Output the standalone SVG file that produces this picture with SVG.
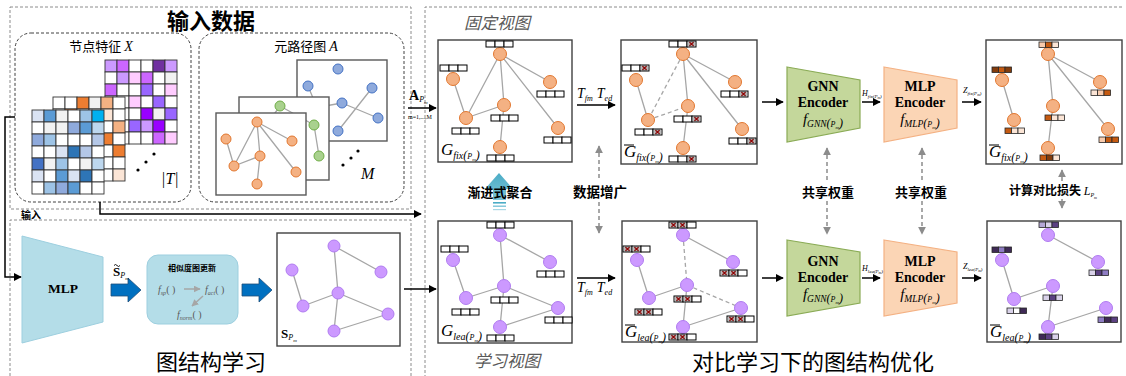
<svg xmlns="http://www.w3.org/2000/svg" xmlns:xlink="http://www.w3.org/1999/xlink" width="1126" height="376" viewBox="0 0 1126 376">
<defs>
<style>
.dash{fill:none;stroke:#8c8c8c;stroke-width:1;stroke-dasharray:3 2}
.rdash{fill:none;stroke:#404040;stroke-width:1;stroke-dasharray:3 2}
.panel{fill:#fff;stroke:#404040;stroke-width:1.4}
.mp{fill:#fff;stroke:#595959;stroke-width:1.4}
.e{stroke:#a6a6a6;stroke-width:1.3;fill:none}
.ed{stroke:#a6a6a6;stroke-width:1.3;fill:none;stroke-dasharray:4 3}
.on{fill:#f4b183;stroke:#e2772f;stroke-width:1}
.pn{fill:#cc99ff;stroke:#b07cf0;stroke-width:1}
.bn{fill:#8faadc;stroke:#4472c4;stroke-width:1}
.gn{fill:#a9d18e;stroke:#70ad47;stroke-width:1}
.bar rect{fill:#fff;stroke:#000;stroke-width:1}
.cb rect{stroke:#262626;stroke-width:0.8}
.ar{stroke:#000;stroke-width:1.5;fill:none;marker-end:url(#ah)}
.ga{stroke:#8c8c8c;stroke-width:1.5;fill:none;stroke-dasharray:4 3;marker-end:url(#gh)}
.cjk{font-family:"Noto Sans CJK SC","Noto Sans CJK JP",sans-serif}
.sf{font-family:"Liberation Serif",serif}
.it{font-style:italic}
.b{font-weight:bold}
.ba{stroke:#000;stroke-width:1}
</style>
<marker id="ah" viewBox="0 0 10 10" refX="9" refY="5" markerWidth="8" markerHeight="8" markerUnits="userSpaceOnUse" orient="auto"><path d="M0,0L10,5L0,10z" fill="#000"/></marker>
<marker id="gh" viewBox="0 0 10 10" refX="9" refY="5" markerWidth="8" markerHeight="8" markerUnits="userSpaceOnUse" orient="auto"><path d="M0,0L10,5L0,10z" fill="#8c8c8c"/></marker>
<marker id="lh" viewBox="0 0 10 10" refX="9" refY="5" markerWidth="7" markerHeight="7" markerUnits="userSpaceOnUse" orient="auto"><path d="M0,0L10,5L0,10z" fill="#a6a6a6"/></marker>
<rect id="c" width="12" height="12" stroke="#333" stroke-width="0.9"/>
<g id="b3" class="bar"><rect x="0" y="0" width="9" height="6"/><rect x="9" y="0" width="9" height="6"/><rect x="18" y="0" width="9" height="6"/></g>
<g id="xk"><rect x="2" y="1" width="5" height="4" fill="#f2f2f2" stroke="#222" stroke-width="0.6"/><path d="M2.5,1.3L6.5,4.7M6.5,1.3L2.5,4.7" stroke="#8b0000" stroke-width="1.2"/></g>
<g id="bx1"><use href="#b3"/><use href="#xk" x="18"/></g>
<g id="bx2"><use href="#b3"/><use href="#xk" x="0"/><use href="#xk" x="9"/></g>
<linearGradient id="tg" x1="0" y1="0" x2="0" y2="1"><stop offset="0" stop-color="#4bacc6"/><stop offset="1" stop-color="#7cc4d8"/></linearGradient>
</defs>
<rect width="1126" height="376" fill="#fff"/>

<g id="frames">
<rect class="dash" x="10" y="7" width="401" height="202"/>
<path class="dash" d="M10,376V220H411V376"/>
<path class="dash" d="M1122,7H425V376"/>
<rect class="rdash" x="15" y="33" width="176" height="169" rx="16"/>
<rect class="rdash" x="199" y="33" width="205" height="169" rx="16"/>
</g>

<g id="titles">
<text class="cjk b" x="211" y="29" font-size="22" text-anchor="middle">输入数据</text>
<text class="cjk" x="211" y="370" font-size="22" text-anchor="middle">图结构学习</text>
<text class="cjk" x="813" y="370" font-size="22" text-anchor="middle">对比学习下的图结构优化</text>
<text class="cjk it" x="497" y="29" font-size="16.5" fill="#595959" text-anchor="middle">固定视图</text>
<text class="cjk it" x="507" y="367" font-size="16.5" fill="#595959" text-anchor="middle">学习视图</text>
</g>

<g id="node-features">
<text x="101" y="51" font-size="13" text-anchor="middle"><tspan class="cjk">节点特征 </tspan><tspan class="sf it" font-size="14">X</tspan></text>
<g id="mat-purple">
<use href="#c" x="105" y="60" fill="#cc99ff"/><use href="#c" x="117" y="60" fill="#cc66ff"/><use href="#c" x="129" y="60" fill="#fff"/><use href="#c" x="141" y="60" fill="#fff"/><use href="#c" x="153" y="60" fill="#7030a0"/><use href="#c" x="165" y="60" fill="#cc99ff"/>
<use href="#c" x="105" y="72" fill="#fff"/><use href="#c" x="117" y="72" fill="#cc99ff"/><use href="#c" x="129" y="72" fill="#ffccff"/><use href="#c" x="141" y="72" fill="#cc66ff"/><use href="#c" x="153" y="72" fill="#fff"/><use href="#c" x="165" y="72" fill="#f2f2f2"/>
<use href="#c" x="105" y="84" fill="#cc66ff"/><use href="#c" x="117" y="84" fill="#fff"/><use href="#c" x="129" y="84" fill="#fff"/><use href="#c" x="141" y="84" fill="#9966ff"/><use href="#c" x="153" y="84" fill="#fff"/><use href="#c" x="165" y="84" fill="#ffccff"/>
<use href="#c" x="105" y="96" fill="#fff"/><use href="#c" x="117" y="96" fill="#fff"/><use href="#c" x="129" y="96" fill="#ffccff"/><use href="#c" x="141" y="96" fill="#fff"/><use href="#c" x="153" y="96" fill="#9966ff"/><use href="#c" x="165" y="96" fill="#fff"/>
<use href="#c" x="105" y="108" fill="#fff"/><use href="#c" x="117" y="108" fill="#fff"/><use href="#c" x="129" y="108" fill="#fff"/><use href="#c" x="141" y="108" fill="#9900ff"/><use href="#c" x="153" y="108" fill="#f2f2f2"/><use href="#c" x="165" y="108" fill="#9966ff"/>
<use href="#c" x="105" y="120" fill="#fff"/><use href="#c" x="117" y="120" fill="#fff"/><use href="#c" x="129" y="120" fill="#9966ff"/><use href="#c" x="141" y="120" fill="#cc99ff"/><use href="#c" x="153" y="120" fill="#9900ff"/><use href="#c" x="165" y="120" fill="#fff"/>
<use href="#c" x="105" y="132" fill="#fff"/><use href="#c" x="117" y="132" fill="#fff"/><use href="#c" x="129" y="132" fill="#fff"/><use href="#c" x="141" y="132" fill="#fff"/><use href="#c" x="153" y="132" fill="#cc66ff"/><use href="#c" x="165" y="132" fill="#ffccff"/>
</g>
<g id="mat-orange">
<use href="#c" x="53" y="97" fill="#fff"/><use href="#c" x="65" y="97" fill="#fff"/><use href="#c" x="77" y="97" fill="#ed7d31"/><use href="#c" x="89" y="97" fill="#f2f2f2"/><use href="#c" x="101" y="97" fill="#f4b183"/><use href="#c" x="113" y="97" fill="#fff"/>
<use href="#c" x="53" y="109" fill="#fff"/><use href="#c" x="65" y="109" fill="#ed7d31"/><use href="#c" x="77" y="109" fill="#fff"/><use href="#c" x="89" y="109" fill="#fff"/><use href="#c" x="101" y="109" fill="#fbe5d6"/><use href="#c" x="113" y="109" fill="#fff"/>
<use href="#c" x="53" y="121" fill="#fff"/><use href="#c" x="65" y="121" fill="#fff"/><use href="#c" x="77" y="121" fill="#fff"/><use href="#c" x="89" y="121" fill="#fff"/><use href="#c" x="101" y="121" fill="#fff"/><use href="#c" x="113" y="121" fill="#f4b183"/>
<use href="#c" x="53" y="133" fill="#fff"/><use href="#c" x="65" y="133" fill="#fff"/><use href="#c" x="77" y="133" fill="#fff"/><use href="#c" x="89" y="133" fill="#fff"/><use href="#c" x="101" y="133" fill="#ed7d31"/><use href="#c" x="113" y="133" fill="#fff"/>
<use href="#c" x="53" y="145" fill="#fff"/><use href="#c" x="65" y="145" fill="#fff"/><use href="#c" x="77" y="145" fill="#fff"/><use href="#c" x="89" y="145" fill="#fff"/><use href="#c" x="101" y="145" fill="#fff"/><use href="#c" x="113" y="145" fill="#ed7d31"/>
<use href="#c" x="53" y="157" fill="#fff"/><use href="#c" x="65" y="157" fill="#fff"/><use href="#c" x="77" y="157" fill="#fff"/><use href="#c" x="89" y="157" fill="#fff"/><use href="#c" x="101" y="157" fill="#fff"/><use href="#c" x="113" y="157" fill="#fff"/>
<use href="#c" x="53" y="169" fill="#fff"/><use href="#c" x="65" y="169" fill="#fff"/><use href="#c" x="77" y="169" fill="#fff"/><use href="#c" x="89" y="169" fill="#fff"/><use href="#c" x="101" y="169" fill="#fff"/><use href="#c" x="113" y="169" fill="#fbe5d6"/>
</g>
<g id="mat-blue">
<use href="#c" x="32" y="110" fill="#dae3f3"/><use href="#c" x="44" y="110" fill="#5b9bd5"/><use href="#c" x="56" y="110" fill="#f2f2f2"/><use href="#c" x="68" y="110" fill="#fff"/><use href="#c" x="80" y="110" fill="#9dc3e6"/><use href="#c" x="92" y="110" fill="#00b0f0"/>
<use href="#c" x="32" y="122" fill="#fff"/><use href="#c" x="44" y="122" fill="#f2f2f2"/><use href="#c" x="56" y="122" fill="#f2f2f2"/><use href="#c" x="68" y="122" fill="#8faadc"/><use href="#c" x="80" y="122" fill="#5b9bd5"/><use href="#c" x="92" y="122" fill="#bdd7ee"/>
<use href="#c" x="32" y="134" fill="#8faadc"/><use href="#c" x="44" y="134" fill="#9dc3e6"/><use href="#c" x="56" y="134" fill="#fff"/><use href="#c" x="68" y="134" fill="#fff"/><use href="#c" x="80" y="134" fill="#fff"/><use href="#c" x="92" y="134" fill="#b4c7e7"/>
<use href="#c" x="32" y="146" fill="#fff"/><use href="#c" x="44" y="146" fill="#fff"/><use href="#c" x="56" y="146" fill="#dae3f3"/><use href="#c" x="68" y="146" fill="#2e75b6"/><use href="#c" x="80" y="146" fill="#b4c7e7"/><use href="#c" x="92" y="146" fill="#fff"/>
<use href="#c" x="32" y="158" fill="#4472c4"/><use href="#c" x="44" y="158" fill="#f2f2f2"/><use href="#c" x="56" y="158" fill="#9dc3e6"/><use href="#c" x="68" y="158" fill="#fff"/><use href="#c" x="80" y="158" fill="#f2f2f2"/><use href="#c" x="92" y="158" fill="#bdd7ee"/>
<use href="#c" x="32" y="170" fill="#dae3f3"/><use href="#c" x="44" y="170" fill="#fff"/><use href="#c" x="56" y="170" fill="#5b9bd5"/><use href="#c" x="68" y="170" fill="#dae3f3"/><use href="#c" x="80" y="170" fill="#2e75b6"/><use href="#c" x="92" y="170" fill="#fff"/>
<use href="#c" x="32" y="182" fill="#fff"/><use href="#c" x="44" y="182" fill="#9dc3e6"/><use href="#c" x="56" y="182" fill="#8faadc"/><use href="#c" x="68" y="182" fill="#5b9bd5"/><use href="#c" x="80" y="182" fill="#fff"/><use href="#c" x="92" y="182" fill="#fff"/>
</g>
<circle cx="138" cy="170" r="1.6"/><circle cx="146" cy="162" r="1.6"/><circle cx="154" cy="154" r="1.6"/>
<text class="sf it" x="161" y="184" font-size="16">|T|</text>
</g>

<g id="metapath-graphs">
<text x="306" y="51" font-size="13" text-anchor="middle"><tspan class="cjk">元路径图 </tspan><tspan class="sf it" font-size="14">A</tspan></text>
<rect class="mp" x="297" y="60" width="90" height="81"/>
<path class="e" d="M308,86L318,110 M342,103L378,118 M372,88L338,131 M342,103L325,106"/>
<circle class="bn" cx="338" cy="69" r="5"/><circle class="bn" cx="308" cy="86" r="5"/><circle class="bn" cx="372" cy="88" r="5"/><circle class="bn" cx="342" cy="103" r="5"/><circle class="bn" cx="378" cy="118" r="5"/><circle class="bn" cx="338" cy="131" r="5"/>
<rect class="mp" x="239" y="97" width="90" height="83"/>
<path class="e" d="M280,106L314,125 M314,125L319,156 M280,106L270,120"/>
<circle class="gn" cx="280" cy="106" r="5"/><circle class="gn" cx="314" cy="125" r="5"/><circle class="gn" cx="319" cy="156" r="5"/>
<rect class="mp" x="216" y="113" width="90" height="82"/>
<path class="e" d="M257,122L292,141 M257,122L234,166 M257,122L296,172 M257,122L260,156 M226,139L234,166 M234,166L260,156 M260,156L257,184"/>
<circle class="on" cx="257" cy="122" r="5"/><circle class="on" cx="226" cy="139" r="5"/><circle class="on" cx="292" cy="141" r="5"/><circle class="on" cx="260" cy="156" r="5"/><circle class="on" cx="234" cy="166" r="5"/><circle class="on" cx="296" cy="172" r="5"/><circle class="on" cx="257" cy="184" r="5"/>
<circle cx="343" cy="165" r="1.6"/><circle cx="351" cy="158" r="1.6"/><circle cx="358" cy="151" r="1.6"/>
<text class="sf it" x="361" y="179" font-size="16">M</text>
</g>

<g id="mlp">
<polygon points="22,236 103,257 103,322 22,343" fill="#b4dde8" stroke="#9dcfdf" stroke-width="1"/>
<text class="sf b" x="63" y="293" font-size="13.5" text-anchor="middle">MLP</text>
</g>
<g id="sim-update">
<rect x="147" y="255" width="91" height="69" rx="11" fill="#b4dde8" stroke="#9dcfdf" stroke-width="1"/>
<text class="cjk b" x="192" y="271" font-size="8" text-anchor="middle">相似度图更新</text>
<g class="sf it" fill="#595959" font-size="10">
<text x="158" y="293">f<tspan font-size="6" dy="2">sp</tspan><tspan font-style="normal" dy="-2">( )</tspan></text>
<text x="205" y="293">f<tspan font-size="6" dy="2">act</tspan><tspan font-style="normal" dy="-2">( )</tspan></text>
<text x="177" y="318">f<tspan font-size="6" dy="2">norm</tspan><tspan font-style="normal" dy="-2">( )</tspan></text>
</g>
</g>
<g id="learned-graph">
<rect class="panel" x="277" y="233" width="123" height="113"/>
<path class="e" d="M334,246L381,272 M334,246L338,293 M292,270L303,306 M303,306L338,293 M338,293L388,314 M338,293L334,331 M334,331L388,314"/>
<circle class="pn" cx="334" cy="246" r="6"/><circle class="pn" cx="292" cy="270" r="6"/><circle class="pn" cx="381" cy="272" r="6"/><circle class="pn" cx="338" cy="293" r="6"/><circle class="pn" cx="303" cy="306" r="6"/><circle class="pn" cx="388" cy="314" r="6"/><circle class="pn" cx="334" cy="331" r="6"/>
<text class="sf b" x="281" y="338" font-size="13">S<tspan class="it" font-weight="normal" font-size="8" dy="2">P</tspan><tspan class="it" font-weight="normal" font-size="5" dy="2">m</tspan></text>
</g>

<g id="g-fix">
<rect class="panel" x="438" y="40" width="134" height="122"/>
<path class="e" d="M500,54L466,118 M500,54L504,105 M500,54L550,82 M500,54L558,128 M453,79L466,118 M466,118L504,105 M504,105L500,147"/>
<circle class="on" cx="500" cy="54" r="6.5"/><circle class="on" cx="453" cy="79" r="6.5"/><circle class="on" cx="550" cy="82" r="6.5"/><circle class="on" cx="504" cy="105" r="6.5"/><circle class="on" cx="466" cy="118" r="6.5"/><circle class="on" cx="558" cy="128" r="6.5"/><circle class="on" cx="500" cy="147" r="6.5"/>
<use href="#b3" x="486" y="41"/><use href="#b3" x="440" y="65"/><use href="#b3" x="537" y="91"/><use href="#b3" x="491" y="115"/><use href="#b3" x="452" y="128"/><use href="#b3" x="544" y="137"/><use href="#b3" x="487" y="155"/>
<text class="sf it" x="441" y="155" font-size="17">G<tspan font-size="10" dy="4">fix</tspan><tspan font-size="12">(</tspan><tspan font-size="8">P</tspan><tspan font-size="5" dy="2">m</tspan><tspan font-size="12" dy="-2">)</tspan></text>
</g>
<g id="g-fix-aug">
<rect class="panel" x="621" y="40" width="136" height="124"/>
<path class="e" d="M683,54L735,82 M683,54L688,106 M683,54L742,129 M636,80L648,120 M688,106L683,148"/>
<path class="ed" d="M683,54L648,120 M648,120L688,106"/>
<circle class="on" cx="683" cy="54" r="6.5"/><circle class="on" cx="636" cy="80" r="6.5"/><circle class="on" cx="735" cy="82" r="6.5"/><circle class="on" cx="688" cy="106" r="6.5"/><circle class="on" cx="648" cy="120" r="6.5"/><circle class="on" cx="742" cy="129" r="6.5"/><circle class="on" cx="683" cy="148" r="6.5"/>
<use href="#bx1" x="669" y="41"/><use href="#bx1" x="622" y="65"/><use href="#bx1" x="721" y="91"/><use href="#bx1" x="674" y="116"/><use href="#bx1" x="635" y="129"/><use href="#bx1" x="729" y="138"/><use href="#bx1" x="669" y="156"/>
<line class="ba" x1="624" y1="145" x2="634" y2="145"/>
<text class="sf it" x="624" y="157" font-size="17">G<tspan font-size="10" dy="4">fix</tspan><tspan font-size="12">(</tspan><tspan font-size="8">P</tspan><tspan font-size="5" dy="2">m</tspan><tspan font-size="12" dy="-2">)</tspan></text>
</g>
<g id="gnn-top">
<polygon points="787,67 860,80 860,128 787,142" fill="#c4d79b" stroke="#8aab55" stroke-width="1.2"/>
<g class="sf b" font-size="14" text-anchor="middle"><text x="823" y="91">GNN</text><text x="823" y="107">Encoder</text></g>
<text class="sf it" x="823" y="124" font-size="15" text-anchor="middle">f<tspan font-size="9.5" dy="3">GNN</tspan><tspan font-size="12">(</tspan><tspan font-size="8">P</tspan><tspan font-size="5" dy="2">m</tspan><tspan font-size="12" dy="-2">)</tspan></text>
</g>
<g id="mlp-top">
<polygon points="884,67 957,80 957,128 884,142" fill="#fbd5b5" stroke="#f4b183" stroke-width="1.2"/>
<g class="sf b" font-size="14" text-anchor="middle"><text x="920" y="91">MLP</text><text x="920" y="107">Encoder</text></g>
<text class="sf it" x="920" y="124" font-size="15" text-anchor="middle">f<tspan font-size="9.5" dy="3">MLP</tspan><tspan font-size="12">(</tspan><tspan font-size="8">P</tspan><tspan font-size="5" dy="2">m</tspan><tspan font-size="12" dy="-2">)</tspan></text>
</g>
<g id="out-fix">
<rect class="panel" x="986" y="40" width="136" height="124"/>
<path class="e" d="M1048,54L1100,82 M1048,54L1053,106 M1048,54L1108,129 M1002,80L1014,120 M1053,106L1048,148"/>
<circle class="on" cx="1048" cy="54" r="6.5"/><circle class="on" cx="1002" cy="80" r="6.5"/><circle class="on" cx="1100" cy="82" r="6.5"/><circle class="on" cx="1053" cy="106" r="6.5"/><circle class="on" cx="1014" cy="120" r="6.5"/><circle class="on" cx="1108" cy="129" r="6.5"/><circle class="on" cx="1048" cy="148" r="6.5"/>
<g class="cb">
<rect x="1039" y="42" width="6.5" height="5.5" fill="#f8cbad"/><rect x="1045.5" y="42" width="6.5" height="5.5" fill="#c55a11"/><rect x="1052" y="42" width="6.5" height="5.5" fill="#fbe5d6"/>
<rect x="992" y="67" width="6.5" height="5.5" fill="#843c0c"/><rect x="998.5" y="67" width="6.5" height="5.5" fill="#c55a11"/><rect x="1005" y="67" width="6.5" height="5.5" fill="#843c0c"/>
<rect x="1091" y="90" width="6.5" height="5.5" fill="#fbe5d6"/><rect x="1097.5" y="90" width="6.5" height="5.5" fill="#f8cbad"/><rect x="1104" y="90" width="6.5" height="5.5" fill="#c55a11"/>
<rect x="1045" y="115" width="6.5" height="5.5" fill="#c55a11"/><rect x="1051.5" y="115" width="6.5" height="5.5" fill="#fbe5d6"/><rect x="1058" y="115" width="6.5" height="5.5" fill="#fbe5d6"/>
<rect x="1005" y="128" width="6.5" height="5.5" fill="#c55a11"/><rect x="1011.5" y="128" width="6.5" height="5.5" fill="#fbe5d6"/><rect x="1018" y="128" width="6.5" height="5.5" fill="#fbe5d6"/>
<rect x="1099" y="137" width="6.5" height="5.5" fill="#f8cbad"/><rect x="1105.5" y="137" width="6.5" height="5.5" fill="#c55a11"/><rect x="1112" y="137" width="6.5" height="5.5" fill="#c55a11"/>
<rect x="1040" y="155" width="6.5" height="5.5" fill="#c55a11"/><rect x="1046.5" y="155" width="6.5" height="5.5" fill="#843c0c"/><rect x="1053" y="155" width="6.5" height="5.5" fill="#fbe5d6"/>
</g>
<line class="ba" x1="989" y1="145" x2="999" y2="145"/>
<text class="sf it" x="989" y="157" font-size="17">G<tspan font-size="10" dy="4">fix</tspan><tspan font-size="12">(</tspan><tspan font-size="8">P</tspan><tspan font-size="5" dy="2">m</tspan><tspan font-size="12" dy="-2">)</tspan></text>
</g>

<g id="g-lea">
<rect class="panel" x="438" y="221" width="134" height="122"/>
<path class="e" d="M500,235L550,262 M500,235L504,286 M453,260L466,298 M466,298L504,286 M504,286L558,308 M504,286L500,327 M500,327L558,308"/>
<circle class="pn" cx="500" cy="235" r="6.5"/><circle class="pn" cx="453" cy="260" r="6.5"/><circle class="pn" cx="550" cy="262" r="6.5"/><circle class="pn" cx="504" cy="286" r="6.5"/><circle class="pn" cx="466" cy="298" r="6.5"/><circle class="pn" cx="558" cy="308" r="6.5"/><circle class="pn" cx="500" cy="327" r="6.5"/>
<use href="#b3" x="487" y="222"/><use href="#b3" x="441" y="246"/><use href="#b3" x="537" y="271"/><use href="#b3" x="491" y="297"/><use href="#b3" x="452" y="309"/><use href="#b3" x="545" y="317"/><use href="#b3" x="487" y="335"/>
<text class="sf it" x="441" y="336" font-size="17">G<tspan font-size="10" dy="4">lea</tspan><tspan font-size="12">(</tspan><tspan font-size="8">P</tspan><tspan font-size="5" dy="2">m</tspan><tspan font-size="12" dy="-2">)</tspan></text>
</g>
<g id="g-lea-aug">
<rect class="panel" x="622" y="221" width="135" height="121"/>
<path class="e" d="M683,235L733,262 M637,260L649,298 M649,298L687,285 M687,285L683,327 M683,327L741,308"/>
<path class="ed" d="M683,235L687,285 M687,285L741,308"/>
<circle class="pn" cx="683" cy="235" r="6.5"/><circle class="pn" cx="637" cy="260" r="6.5"/><circle class="pn" cx="733" cy="262" r="6.5"/><circle class="pn" cx="687" cy="285" r="6.5"/><circle class="pn" cx="649" cy="298" r="6.5"/><circle class="pn" cx="741" cy="308" r="6.5"/><circle class="pn" cx="683" cy="327" r="6.5"/>
<use href="#bx2" x="669" y="222"/><use href="#bx2" x="623" y="246"/><use href="#bx2" x="720" y="270"/><use href="#bx2" x="674" y="296"/><use href="#bx2" x="635" y="309"/><use href="#bx2" x="727" y="316"/><use href="#bx2" x="669" y="334"/>
<line class="ba" x1="625" y1="325" x2="635" y2="325"/>
<text class="sf it" x="625" y="337" font-size="17">G<tspan font-size="10" dy="4">lea</tspan><tspan font-size="12">(</tspan><tspan font-size="8">P</tspan><tspan font-size="5" dy="2">m</tspan><tspan font-size="12" dy="-2">)</tspan></text>
</g>
<g id="gnn-bottom">
<polygon points="787,240 860,252 860,303 787,316" fill="#c4d79b" stroke="#8aab55" stroke-width="1.2"/>
<g class="sf b" font-size="14" text-anchor="middle"><text x="823" y="266">GNN</text><text x="823" y="282">Encoder</text></g>
<text class="sf it" x="823" y="299" font-size="15" text-anchor="middle">f<tspan font-size="9.5" dy="3">GNN</tspan><tspan font-size="12">(</tspan><tspan font-size="8">P</tspan><tspan font-size="5" dy="2">m</tspan><tspan font-size="12" dy="-2">)</tspan></text>
</g>
<g id="mlp-bottom">
<polygon points="884,240 957,252 957,303 884,316" fill="#fbd5b5" stroke="#f4b183" stroke-width="1.2"/>
<g class="sf b" font-size="14" text-anchor="middle"><text x="920" y="266">MLP</text><text x="920" y="282">Encoder</text></g>
<text class="sf it" x="920" y="299" font-size="15" text-anchor="middle">f<tspan font-size="9.5" dy="3">MLP</tspan><tspan font-size="12">(</tspan><tspan font-size="8">P</tspan><tspan font-size="5" dy="2">m</tspan><tspan font-size="12" dy="-2">)</tspan></text>
</g>
<g id="out-lea">
<rect class="panel" x="987" y="221" width="134" height="121"/>
<path class="e" d="M1048,235L1098,262 M1002,260L1014,299 M1014,299L1053,286 M1053,286L1048,327 M1048,327L1106,308"/>
<circle class="pn" cx="1048" cy="235" r="6.5"/><circle class="pn" cx="1002" cy="260" r="6.5"/><circle class="pn" cx="1098" cy="262" r="6.5"/><circle class="pn" cx="1053" cy="286" r="6.5"/><circle class="pn" cx="1014" cy="299" r="6.5"/><circle class="pn" cx="1106" cy="308" r="6.5"/><circle class="pn" cx="1048" cy="327" r="6.5"/>
<g class="cb">
<rect x="1039" y="222" width="6.5" height="5.5" fill="#b4a7d6"/><rect x="1045.5" y="222" width="6.5" height="5.5" fill="#d9d2e9"/><rect x="1052" y="222" width="6.5" height="5.5" fill="#5b4081"/>
<rect x="992" y="247" width="6.5" height="5.5" fill="#3f2a56"/><rect x="998.5" y="247" width="6.5" height="5.5" fill="#8e7cc3"/><rect x="1005" y="247" width="6.5" height="5.5" fill="#3f2a56"/>
<rect x="1089" y="270" width="6.5" height="5.5" fill="#d9d2e9"/><rect x="1095.5" y="270" width="6.5" height="5.5" fill="#5b4081"/><rect x="1102" y="270" width="6.5" height="5.5" fill="#8e7cc3"/>
<rect x="1043" y="295" width="6.5" height="5.5" fill="#d9d2e9"/><rect x="1049.5" y="295" width="6.5" height="5.5" fill="#5b4081"/><rect x="1056" y="295" width="6.5" height="5.5" fill="#d9d2e9"/>
<rect x="1007" y="308" width="6.5" height="5.5" fill="#d9d2e9"/><rect x="1013.5" y="308" width="6.5" height="5.5" fill="#ffffff"/><rect x="1020" y="308" width="6.5" height="5.5" fill="#3f2a56"/>
<rect x="1098" y="317" width="6.5" height="5.5" fill="#8e7cc3"/><rect x="1104.5" y="317" width="6.5" height="5.5" fill="#3f2a56"/><rect x="1111" y="317" width="6.5" height="5.5" fill="#5b4081"/>
<rect x="1039" y="334" width="6.5" height="5.5" fill="#3f2a56"/><rect x="1045.5" y="334" width="6.5" height="5.5" fill="#5b4081"/><rect x="1052" y="334" width="6.5" height="5.5" fill="#d9d2e9"/>
</g>
<line class="ba" x1="990" y1="325" x2="1000" y2="325"/>
<text class="sf it" x="990" y="337" font-size="17">G<tspan font-size="10" dy="4">lea</tspan><tspan font-size="12">(</tspan><tspan font-size="8">P</tspan><tspan font-size="5" dy="2">m</tspan><tspan font-size="12" dy="-2">)</tspan></text>
</g>

<g id="connectors">
<path class="ar" d="M15,117H5V277H21"/>
<path class="ar" d="M100,202V214H421"/>
<text class="cjk b" x="21" y="219" font-size="10">输入</text>
<polygon points="111,284 128,284 128,278 141,290 128,302 128,296 111,296" fill="#0070c0" stroke="#1f4e79" stroke-width="0.8"/>
<polygon points="242,284 259,284 259,278 272,290 259,302 259,296 242,296" fill="#0070c0" stroke="#1f4e79" stroke-width="0.8"/>
<text class="sf b" x="113" y="276" font-size="13">S<tspan class="it" font-weight="normal" font-size="8" dy="2">P</tspan><tspan class="it" font-weight="normal" font-size="5" dy="2">m</tspan></text>
<path d="M114,265.5q1.5,-2 3,0t3,0" fill="none" stroke="#000" stroke-width="0.9"/>
<path d="M184,289H200" stroke="#a6a6a6" stroke-width="1.5" marker-end="url(#lh)"/>
<path d="M203,296L192,306" stroke="#a6a6a6" stroke-width="1.5" marker-end="url(#lh)"/>
<path class="ar" d="M404,289H436"/>
<path class="ar" d="M408,108H436"/>
<text class="sf b" x="409" y="100" font-size="14">A<tspan class="it" font-weight="normal" font-size="8" dy="2">P</tspan><tspan class="it" font-weight="normal" font-size="5" dy="2">m</tspan></text>
<text class="sf" x="408" y="119" font-size="6">m=1,...,M</text>
<path class="ar" d="M577,105H615"/>
<text class="sf it" x="577" y="98" font-size="14">T<tspan font-size="8" dy="3">fm</tspan><tspan dx="4" dy="-3">T</tspan><tspan font-size="8" dy="3">ed</tspan></text>
<path class="ar" d="M577,278H615"/>
<text class="sf it" x="577" y="292" font-size="14">T<tspan font-size="8" dy="3">fm</tspan><tspan dx="4" dy="-3">T</tspan><tspan font-size="8" dy="3">ed</tspan></text>
<path class="ar" d="M762,102H783"/>
<path class="ar" d="M762,278H783"/>
<path class="ar" d="M862,102H880"/>
<text class="sf it" x="862" y="96" font-size="8">H<tspan font-size="5" dy="1.5">fix(P</tspan><tspan font-size="3.5" dy="1">m</tspan><tspan font-size="5" dy="-1">)</tspan></text>
<path class="ar" d="M862,278H880"/>
<text class="sf it" x="862" y="271" font-size="8">H<tspan font-size="5" dy="1.5">lea(P</tspan><tspan font-size="3.5" dy="1">m</tspan><tspan font-size="5" dy="-1">)</tspan></text>
<path class="ar" d="M962,102H981"/>
<text class="sf it" x="963" y="93" font-size="8">Z<tspan font-size="5" dy="1.5">fix(P</tspan><tspan font-size="3.5" dy="1">m</tspan><tspan font-size="5" dy="-1">)</tspan></text>
<path class="ar" d="M962,278H981"/>
<text class="sf it" x="963" y="269" font-size="8">Z<tspan font-size="5" dy="1.5">lea(P</tspan><tspan font-size="3.5" dy="1">m</tspan><tspan font-size="5" dy="-1">)</tspan></text>
<path class="ga" d="M599,178V146"/>
<path class="ga" d="M599,202V233"/>
<path class="ga" d="M827,180V148"/>
<path class="ga" d="M827,201V234"/>
<path class="ga" d="M922,180V148"/>
<path class="ga" d="M922,201V234"/>
<path class="ga" d="M1062,181V170"/>
<path class="ga" d="M1062,199V208"/>
<g id="agg-arrow">
<polygon points="499,173 513,189 506,189 506,200 493,200 493,189 485,189" fill="url(#tg)"/>
<rect x="493" y="202" width="13" height="1.6" fill="#4bacc6"/>
<rect x="493" y="205.5" width="13" height="1.4" fill="#7cc4d8"/>
<rect x="493" y="209" width="13" height="1.2" fill="#a9d8e5"/>
</g>
<text class="cjk b" x="500" y="197" font-size="13" text-anchor="middle">渐进式聚合</text>
<text class="cjk b" x="600" y="197" font-size="13.5" text-anchor="middle">数据增广</text>
<text class="cjk b" x="828" y="197" font-size="13" text-anchor="middle">共享权重</text>
<text class="cjk b" x="921" y="197" font-size="13" text-anchor="middle">共享权重</text>
<text x="1009" y="195" font-size="12"><tspan class="cjk b">计算对比损失 </tspan><tspan class="sf it" font-size="12">L</tspan><tspan class="sf it" font-size="6" dy="2">P</tspan><tspan class="sf it" font-size="4" dy="1.5">m</tspan></text>
</g>
</svg>
